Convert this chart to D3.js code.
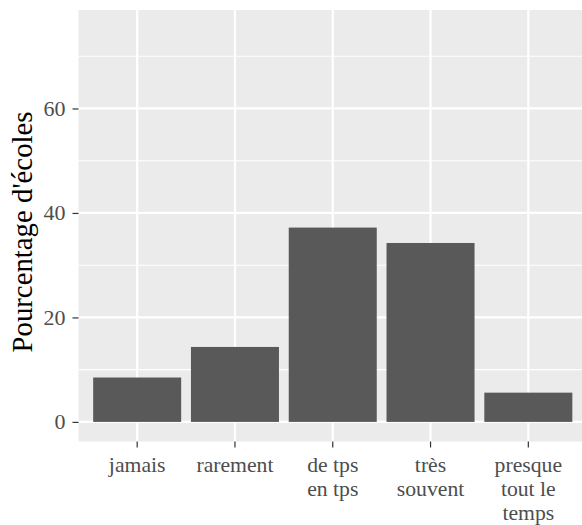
<!DOCTYPE html>
<html>
<head>
<meta charset="utf-8">
<script src="https://cdn.jsdelivr.net/npm/d3@7"></script>
<style>
  body { margin: 0; background: #fff; }
  svg { display: block; }
</style>
</head>
<body>
<div id="app"></div>
<script>
const categories = ['jamais', 'rarement', 'de tps en tps', 'très souvent', 'presque tout le temps']
const labelLines = [['jamais'], ['rarement'], ['de tps', 'en tps'], ['très', 'souvent'], ['presque', 'tout le', 'temps']]
const values = [8.5, 14.35, 37.2, 34.25, 5.6]
const yTicks = [0, 20, 40, 60]
const yTitle = "Pourcentage d'écoles"

const width = 582
const height = 525
const panel = { left: 78.5, top: 10, right: 587, bottom: 441.5 }
const serif = "'Liberation Serif', serif"

const x_scale = d3.scaleBand()
    .domain(categories)
    .range([panel.left, panel.right])
    .paddingInner(0.1)
    .paddingOuter(0.15)

const y_scale = d3.scaleLinear()
    .domain([-3.75, 78.85])
    .range([panel.bottom, panel.top])

const svg = d3.create('svg')
    .attr('viewBox', [0, 0, width, height])
    .attr('width', width)
    .attr('height', height)

svg.append('rect')
    .attr('x', panel.left)
    .attr('y', panel.top)
    .attr('width', panel.right - panel.left)
    .attr('height', panel.bottom - panel.top)
    .attr('fill', '#ebebeb')

// minor grid
const minor = yTicks.map(d => d + 10)
svg.append('g')
    .selectAll('line')
    .data(minor)
    .join('line')
    .attr('x1', panel.left)
    .attr('x2', panel.right)
    .attr('y1', d => y_scale(d))
    .attr('y2', d => y_scale(d))
    .attr('stroke', '#fff')
    .attr('stroke-width', 1.1)

// major grid
svg.append('g')
    .selectAll('line')
    .data(yTicks)
    .join('line')
    .attr('x1', panel.left)
    .attr('x2', panel.right)
    .attr('y1', d => y_scale(d))
    .attr('y2', d => y_scale(d))
    .attr('stroke', '#fff')
    .attr('stroke-width', 2.2)

svg.append('g')
    .selectAll('line')
    .data(categories)
    .join('line')
    .attr('x1', d => x_scale(d) + x_scale.bandwidth() / 2)
    .attr('x2', d => x_scale(d) + x_scale.bandwidth() / 2)
    .attr('y1', panel.top)
    .attr('y2', panel.bottom)
    .attr('stroke', '#fff')
    .attr('stroke-width', 2.2)

// bars
svg.append('g')
    .selectAll('rect')
    .data(categories)
    .join('rect')
    .attr('x', d => x_scale(d))
    .attr('width', x_scale.bandwidth())
    .attr('y', (d, i) => y_scale(values[i]))
    .attr('height', (d, i) => y_scale(0) - y_scale(values[i]))
    .attr('fill', '#595959')

// y axis
const yAxis = svg.append('g')
    .attr('transform', `translate(${panel.left}, 0)`)
    .call(d3.axisLeft(y_scale).tickValues(yTicks).tickSize(6).tickPadding(7))
    .attr('font-family', serif)
    .attr('font-size', 22)
yAxis.select('.domain').remove()
yAxis.selectAll('.tick line').attr('stroke', '#333').attr('stroke-width', 1.2)
yAxis.selectAll('.tick text').attr('fill', '#4d4d4d')

// x axis
const xAxis = svg.append('g')
    .attr('transform', `translate(0, ${panel.bottom})`)
    .call(d3.axisBottom(x_scale).tickSize(6).tickFormat(''))
xAxis.select('.domain').remove()
xAxis.selectAll('.tick line').attr('stroke', '#333').attr('stroke-width', 1.2)

svg.append('g')
    .attr('font-family', serif)
    .attr('font-size', 21.7)
    .selectAll('text')
    .data(categories)
    .join('text')
    .attr('x', d => x_scale(d) + x_scale.bandwidth() / 2)
    .attr('y', panel.bottom + 30.2)
    .attr('text-anchor', 'middle')
    .attr('fill', '#4d4d4d')
    .selectAll('tspan')
    .data((d, i) => labelLines[i])
    .join('tspan')
    .attr('x', function () { return this.parentNode.getAttribute('x') })
    .attr('dy', (d, i) => i === 0 ? 0 : 24)
    .text(d => d)

svg.append('text')
    .attr('transform', `translate(32, 232) rotate(-90)`)
    .attr('text-anchor', 'middle')
    .attr('fill', '#000')
    .attr('font-family', serif)
    .attr('font-size', 28.8)
    .text(yTitle)

d3.select('#app').append(() => svg.node())
</script>
</body>
</html>
